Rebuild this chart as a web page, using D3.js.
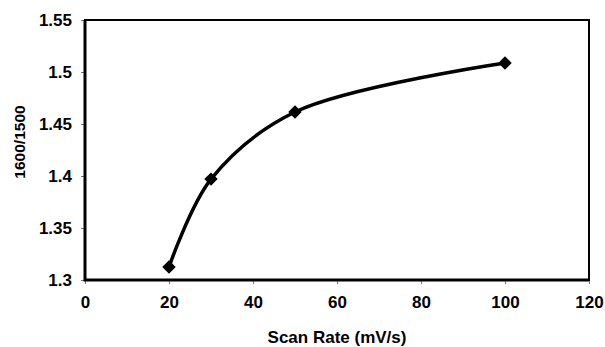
<!DOCTYPE html>
<html>
<head>
<meta charset="utf-8">
<script src="https://cdn.jsdelivr.net/npm/d3@7"></script>
<style>
  body { margin: 0; background: #fff; }
  text { font-family: "Liberation Sans", Arial, sans-serif; font-weight: bold; fill: #000; }
</style>
</head>
<body>
<div id="chart"></div>
<script>
// data
var scanRate = [20, 30, 50, 100]
var ratio = [1.3125, 1.397, 1.4615, 1.5087]
var xTicks = [0, 20, 40, 60, 80, 100, 120]
var yTicks = [1.3, 1.35, 1.4, 1.45, 1.5, 1.55]

var svgWidth = 605
  , svgHeight = 347
  , margin = {top: 20, right: 16, bottom: 67, left: 85}
  , width = svgWidth - margin.left - margin.right
  , height = svgHeight - margin.top - margin.bottom

var svg = d3.select("#chart").append("svg")
    .attr("width", svgWidth)
    .attr("height", svgHeight)

var g = svg.append("g")
    .attr("transform", "translate(" + margin.left + "," + margin.top + ")")

var x = d3.scaleLinear().domain([0, 120]).range([0, width])
var y = d3.scaleLinear().domain([1.3, 1.55]).range([height, 0])

// x axis
var xAxis = g.append("g")
    .attr("transform", "translate(0," + height + ")")
    .call(d3.axisBottom(x).tickValues(xTicks).tickSize(4).tickPadding(12).tickFormat(d3.format("d")))
xAxis.select(".domain").remove()
xAxis.selectAll("line").attr("stroke", "#777")
xAxis.selectAll("text").style("font-size", "17px")

// y axis
var yAxis = g.append("g")
    .call(d3.axisLeft(y).tickValues(yTicks).tickSize(4).tickPadding(9).tickFormat(d => String(d)))
yAxis.select(".domain").remove()
yAxis.selectAll("line").attr("stroke", "#777")
yAxis.selectAll("text").style("font-size", "17px")

// frame
g.append("rect")
    .attr("width", width)
    .attr("height", height)
    .attr("fill", "none")
    .attr("stroke", "#000")
    .attr("stroke-width", 2)
g.append("path")
    .attr("d", "M0,0V" + height + "H" + width)
    .attr("fill", "none")
    .attr("stroke", "#000")
    .attr("stroke-width", 3)

// smooth line
var line = d3.line()
    .x((d, i) => x(scanRate[i]))
    .y(d => y(d))
    .curve(d3.curveCatmullRom.alpha(0.5))

g.append("path")
    .datum(ratio)
    .attr("d", line)
    .attr("fill", "none")
    .attr("stroke", "#000")
    .attr("stroke-width", 3.5)

// diamond markers
var diamond = d3.symbol().type(d3.symbolSquare).size(90)
g.selectAll(".pt")
    .data(ratio)
  .enter().append("path")
    .attr("class", "pt")
    .attr("d", diamond)
    .attr("transform", (d, i) => "translate(" + x(scanRate[i]) + "," + y(d) + ") rotate(45)")
    .attr("fill", "#000")

// axis titles
svg.append("text")
    .attr("x", margin.left + width / 2)
    .attr("y", 343)
    .attr("text-anchor", "middle")
    .style("font-size", "17px")
    .text("Scan Rate (mV/s)")

svg.append("text")
    .attr("transform", "translate(25,142) rotate(-90)")
    .attr("text-anchor", "middle")
    .style("font-size", "15.5px")
    .text("1600/1500")
</script>
</body>
</html>
